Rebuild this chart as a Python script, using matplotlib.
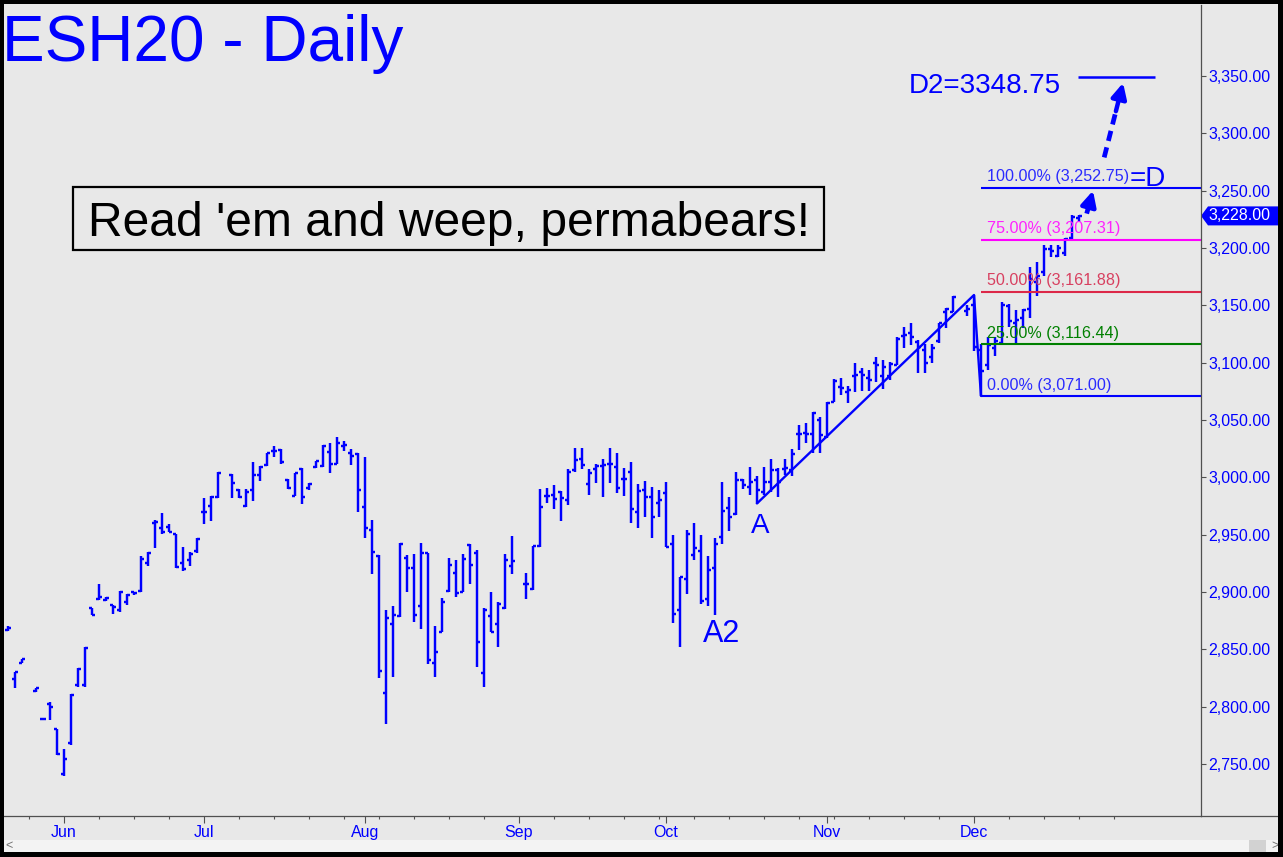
import matplotlib
matplotlib.use('Agg')
import matplotlib.pyplot as plt
import numpy as np
import pandas as pd
from matplotlib.patches import Rectangle, Polygon
from matplotlib.lines import Line2D
from matplotlib.transforms import blended_transform_factory

plt.rcParams['font.family'] = ['Liberation Sans', 'DejaVu Sans']

# daily bars of ESH20, one slot per weekday (holidays are None)
dates = pd.bdate_range('2019-05-22', '2019-12-23')
opens = [2867, 2824, 2838, None, 2814, 2789, 2802, 2781, 2741, 2768,
         2819, 2819, 2886, 2894, 2893, 2889, 2884, 2891, 2900, 2901,
         2925, 2960, 2956, 2957, 2951, 2925, 2928, 2936, 2970, 2975,
         2983, None, 3002, 2989, 2975, 2989, 3002, 3011, 3023, 3024,
         2998, 2984, 3007, 2991, 3009, 3010, 3022, 3012, 3027, 3021,
         3020, 2974, 2954, 2931, 2812, 2872, 2879, 2930, 2921, 2888,
         2934, 2838, 2865, 2901, 2917, 2900, 2941, 2934, 2829, 2879,
         2872, 2886, 2923, None, 2907, 2903, 2940, 2984, 2985, 2987,
         2980, 3006, 3016, 2994, 3007, 3010, 3012, 3009, 2999, 3005,
         2970, 2989, 2983, 2978, 2986, 2942, 2884, 2911, 2932, 2936,
         2894, 2921, 2948, 2973, 2968, 2998, 2992, 2998, 2987, 2996,
         3006, 3007, 3006, 3038, 3039, 3038, 3050, 3035, 3066, 3079,
         3074, 3088, 3092, 3087, 3100, 3088, 3088, 3098, 3123, 3126,
         3118, 3111, 3105, 3119, 3144, 3144, None, 3145, 3150, 3111,
         3098, 3113, 3117, 3149, 3135, 3139, 3147, 3170, 3179, 3199,
         3193, 3196, 3209, 3226]
highs = [2870, 2830, 2842, None, 2816, 2790, 2804, 2781, 2763, 2811,
         2834, 2852, 2886, 2907, 2896, 2889, 2901, 2898, 2900, 2931,
         2935, 2963, 2969, 2959, 2951, 2939, 2935, 2947, 2982, 2984,
         3005, None, 3003, 2990, 2990, 3013, 3010, 3021, 3027, 3025,
         2999, 3004, 3008, 2995, 3014, 3028, 3030, 3035, 3032, 3025,
         3021, 3018, 2963, 2932, 2884, 2888, 2943, 2932, 2933, 2943,
         2934, 2870, 2895, 2930, 2928, 2933, 2942, 2937, 2886, 2900,
         2891, 2933, 2949, None, 2917, 2940, 2990, 2991, 2993, 2988,
         3007, 3026, 3026, 3007, 3012, 3016, 3026, 3021, 3008, 3013,
         2994, 2997, 2992, 2989, 2996, 2950, 2913, 2954, 2960, 2950,
         2931, 2947, 2996, 2983, 3005, 2999, 3009, 3001, 3009, 3016,
         3008, 3016, 3025, 3046, 3047, 3057, 3053, 3066, 3086, 3087,
         3080, 3100, 3095, 3094, 3105, 3102, 3101, 3122, 3131, 3135,
         3120, 3116, 3116, 3135, 3148, 3158, None, 3150, 3159, 3116,
         3122, 3122, 3153, 3151, 3146, 3147, 3183, 3188, 3203, 3203,
         3203, 3209, 3229, 3229]
lows = [2866, 2816, 2838, None, 2813, 2788, 2788, 2758, 2740, 2767,
        2817, 2817, 2880, 2893, 2892, 2881, 2883, 2889, 2897, 2900,
        2923, 2938, 2951, 2952, 2921, 2918, 2923, 2934, 2959, 2962,
        2982, None, 2982, 2982, 2974, 2979, 2997, 3010, 3018, 3012,
        2990, 2984, 2977, 2989, 3008, 3009, 3004, 3012, 3023, 3011,
        2970, 2947, 2916, 2825, 2785, 2826, 2878, 2900, 2874, 2868,
        2837, 2826, 2865, 2900, 2896, 2900, 2907, 2835, 2817, 2865,
        2852, 2885, 2916, None, 2894, 2902, 2939, 2978, 2972, 2962,
        2976, 3005, 3007, 2985, 2995, 2983, 2995, 2986, 2984, 2960,
        2956, 2965, 2947, 2965, 2939, 2873, 2852, 2898, 2928, 2890,
        2888, 2880, 2942, 2953, 2967, 2990, 2985, 2977, 2985, 2987,
        2983, 3002, 3001, 3024, 3030, 3021, 3021, 3034, 3066, 3072,
        3065, 3074, 3075, 3075, 3083, 3077, 3085, 3098, 3113, 3115,
        3091, 3091, 3100, 3117, 3130, 3144, None, 3141, 3110, 3071,
        3094, 3106, 3117, 3131, 3117, 3130, 3139, 3158, 3176, 3192,
        3192, 3193, 3208, 3223]
closes = [2869, 2830, 2842, None, 2816, 2789, 2800, 2759, 2754, 2810,
          2833, 2851, 2880, 2896, 2895, 2887, 2900, 2897, 2899, 2929,
          2934, 2961, 2952, 2952, 2922, 2920, 2933, 2946, 2970, 2983,
          3004, None, 2995, 2983, 2987, 3002, 3009, 3021, 3023, 3013,
          2991, 3004, 2983, 2994, 3014, 3027, 3012, 3030, 3028, 3019,
          2989, 2956, 2935, 2831, 2877, 2880, 2942, 2921, 2880, 2934,
          2841, 2848, 2891, 2924, 2899, 2929, 2924, 2856, 2884, 2865,
          2890, 2928, 2927, None, 2907, 2940, 2974, 2984, 2981, 2982,
          3005, 3015, 3011, 3004, 3010, 3011, 3012, 2991, 2999, 2972,
          2988, 2983, 2965, 2980, 2939, 2881, 2913, 2951, 2938, 2892,
          2919, 2942, 2971, 2965, 2998, 2993, 2996, 2989, 2996, 3006,
          2996, 3008, 3020, 3038, 3038, 3056, 3037, 3065, 3084, 3078,
          3076, 3089, 3089, 3085, 3098, 3096, 3099, 3121, 3124, 3122,
          3114, 3100, 3113, 3135, 3147, 3157, None, 3147, 3114, 3093,
          3115, 3119, 3150, 3136, 3137, 3146, 3173, 3176, 3199, 3197,
          3200, 3208, 3227, 3228]

# ABCD pattern points (bar index, price)
abcd_idx = [107, 138, 139]
abcd_px = [2977.25, 3159.00, 3071.00]
fib_pcts = ['0.00%', '25.00%', '50.00%', '75.00%', '100.00%']
fib_levels = [3071.00, 3116.44, 3161.88, 3207.31, 3252.75]
fib_colors = ['#0000ff', '#008000', '#dc2848', '#ff00ff', '#0000ff']
fib_text_colors = ['#2a2aff', '#008000', '#d84060', '#ff22ff', '#2a2aff']
d2_target = 3348.75
last_price = 3228.00
month_names = ['Jun', 'Jul', 'Aug', 'Sep', 'Oct', 'Nov', 'Dec']

W, H = 1283, 857
BG = '#e8e8e8'
BLUE = '#0000ff'
AXC = '#505050'

fig = plt.figure(figsize=(W / 100, H / 100), dpi=100, facecolor=BG)
ax = fig.add_axes([4 / W, 1 - 816 / H, (1201 - 4) / W, (816 - 5) / H])
ax.set_facecolor(BG)

o = np.array([np.nan if v is None else v for v in opens], dtype=float)
h = np.array([np.nan if v is None else v for v in highs], dtype=float)
l = np.array([np.nan if v is None else v for v in lows], dtype=float)
c = np.array([np.nan if v is None else v for v in closes], dtype=float)
idx = np.arange(len(dates))
ok = ~np.isnan(o)

ax.vlines(idx[ok], l[ok], h[ok], color=BLUE, lw=1.75)
ax.hlines(o[ok], idx[ok] - 0.47, idx[ok], color=BLUE, lw=1.75)
ax.hlines(c[ok], idx[ok], idx[ok] + 0.47, color=BLUE, lw=1.75)

xmin, xmax = -0.571, 170.43
ax.set_xlim(xmin, xmax)
ax.set_ylim(2704.7, 3411.9)

# ABCD line and fib levels
ax.plot(abcd_idx, abcd_px, color=BLUE, lw=1.7, solid_capstyle='round')
for pct, lev, col, tcol in zip(fib_pcts, fib_levels, fib_colors, fib_text_colors):
    ax.hlines(lev, abcd_idx[-1], xmax, color=col, lw=1.5)
    ax.text(139.86, lev + 5.5, f'{pct} ({lev:,.2f})', color=tcol, fontsize=11.6,
            va='baseline', ha='left')
ax.text(160.2, fib_levels[-1] + 1.5, '=D', color=BLUE, fontsize=20, va='baseline', ha='left')

# D2 target
ax.hlines(d2_target, 152.9, 163.9, color=BLUE, lw=1.8)
ax.text(128.7, 3335.2, f'D2={d2_target}', color=BLUE, fontsize=20, va='baseline', ha='left')

# dashed arrows up to D and D2
for (x0, y0), (x1, y1) in [((154.1, 3230), (155.0, 3250)), ((156.6, 3279), (159.3, 3344))]:
    fx0 = x0 + (x1 - x0) * 0.62
    fy0 = y0 + (y1 - y0) * 0.62
    ax.plot([x0, fx0], [y0, fy0], color=BLUE, lw=3.4, linestyle=(0, (2.2, 1.4)))
    ax.annotate('', xy=(x1, y1), xytext=(fx0, fy0),
                arrowprops=dict(arrowstyle='-|>,head_length=0.9,head_width=0.45',
                                color=BLUE, lw=3.2, shrinkA=0, shrinkB=0))

ax.text(107.4, 2951.5, 'A', color=BLUE, fontsize=20, ha='center', va='baseline')
ax.text(102.0, 2856.4, 'A2', color=BLUE, fontsize=22, ha='center', va='baseline')

# axes styling
for s in ['left', 'top']:
    ax.spines[s].set_visible(False)
for s in ['right', 'bottom']:
    ax.spines[s].set_color(AXC)
    ax.spines[s].set_linewidth(0.9)

ax.yaxis.tick_right()
yt = list(range(2750, 3351, 50))
ax.set_yticks(yt)
ax.set_yticklabels([f'{v:,.2f}' for v in yt])
ax.tick_params(axis='y', length=3.6, width=0.8, color=AXC, pad=1.5,
               labelcolor=BLUE, labelsize=11.5)

axis_dates = pd.bdate_range('2019-05-22', '2019-12-31')
major_idx = []
for m in [6, 7, 8, 9, 10, 11, 12]:
    major_idx.append(int(np.where(axis_dates.month == m)[0][0]))
minor_idx = [i for i, d in enumerate(axis_dates) if d.weekday() == 0]
ax.set_xticks(major_idx)
ax.set_xticklabels(month_names)
ax.set_xticks(minor_idx, minor=True)
ax.tick_params(axis='x', which='major', length=5, width=0.8, color=AXC, pad=1.5,
               labelcolor=BLUE, labelsize=11.5)
ax.tick_params(axis='x', which='minor', length=2.2, width=0.8, color=AXC)

# last price marker on the price scale
tr = blended_transform_factory(ax.transAxes, ax.transData)
ppx = 1 / 1197
dy = 9.5 / 1.1467
ax.add_patch(Polygon([(1.0, last_price), (1 + 7 * ppx, last_price + dy), (1 + 78 * ppx, last_price + dy),
                      (1 + 78 * ppx, last_price - dy), (1 + 7 * ppx, last_price - dy)],
                     closed=True, transform=tr, clip_on=False, facecolor=BLUE, edgecolor='none'))
ax.text(1 + 7 * ppx, last_price, f'{last_price:,.2f}', transform=tr, color='white',
        fontsize=11.5, va='center', ha='left', clip_on=False)


def frect(x0, y0, x1, y1, **kw):
    fig.add_artist(Rectangle((x0 / W, 1 - y1 / H), (x1 - x0) / W, (y1 - y0) / H,
                             transform=fig.transFigure, **kw))


# bottom axis line continues under the price scale
fig.add_artist(Line2D([1201 / W, 1278 / W], [1 - 816 / H] * 2, color=AXC, lw=0.9))

# scroll bar strip
frect(4, 840, 1278, 852, facecolor='#f3f3f3', edgecolor='none')
frect(1249, 840, 1266, 852, facecolor='#d2d2d2', edgecolor='none')
fig.text(5 / W, 1 - 846 / H, '<', color='#707070', fontsize=9, va='center', ha='left')
fig.text(1271 / W, 1 - 846 / H, '>', color='#707070', fontsize=9, va='center', ha='left')

# title and comment box
fig.text(2 / W, 1 - 61 / H, 'ESH20 - Daily', color=BLUE, fontsize=46, va='baseline', ha='left')
frect(73, 187, 824, 250, facecolor=BG, edgecolor='black', lw=1.6)
fig.text(448.5 / W, 1 - 236 / H, "Read 'em and weep, permabears!", color='black',
         fontsize=34.6, va='baseline', ha='center')

# window frame
frect(0, 0, 4, H, facecolor='black', edgecolor='none', zorder=10)
frect(0, 0, W, 4, facecolor='black', edgecolor='none', zorder=10)
frect(1278, 0, W, H, facecolor='black', edgecolor='none', zorder=10)
frect(0, 852, W, H, facecolor='black', edgecolor='none', zorder=10)

fig.savefig('out.png', dpi=100, facecolor=BG)
